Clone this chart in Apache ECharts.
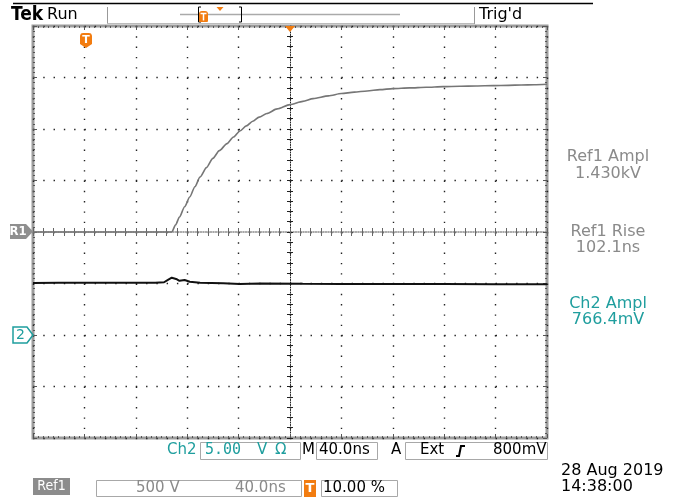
<!DOCTYPE html>
<html>
<head>
<meta charset="utf-8">
<script src="https://cdn.jsdelivr.net/npm/echarts@6/dist/echarts.min.js"></script>
<style>
html,body{margin:0;padding:0;background:#fff;}
#c{width:683px;height:501px;}
</style>
</head>
<body>
<div id="c"></div>
<script>
// ---- data ----
// Ref1 trace: time (ns, trigger = 0) and amplitude (V), 500 V/div
const ref1TimeNs = [-40, -20, 0, 20, 40, 60, 68, 71, 74, 78, 82, 86, 90, 95, 100, 105, 111, 116, 121, 126, 131, 136, 142, 150, 160, 170, 178, 190, 200, 210, 220, 230, 240, 253, 266, 279, 292, 305, 318, 330, 340, 350, 360];
const ref1Volts  = [0, 0, 0, 0, 0, 0, 0, 70, 146, 245, 340, 440, 534, 625, 715, 790, 858, 922, 981, 1030, 1075, 1115, 1150, 1195, 1237, 1268, 1295, 1322, 1344, 1358, 1369, 1382, 1392, 1399, 1405, 1411, 1415, 1418, 1421, 1424, 1427, 1430, 1434];
// Ch2 trace: time (ns) and voltage (V), 5.00 V/div, ground 2 div below centre
const ch2TimeNs = [-40, -20, 0, 20, 40, 55, 62, 65, 68, 72, 74, 78, 82, 90, 108, 121, 137, 170, 200, 240, 280, 320, 360];
const ch2Volts  = [5.06, 5.08, 5.07, 5.08, 5.07, 5.08, 5.12, 5.35, 5.56, 5.41, 5.26, 5.34, 5.17, 5.08, 5.02, 4.95, 5.0, 4.97, 4.96, 4.95, 4.94, 4.93, 4.92];
// scales
const timeRange = [-40, 360, 40];     // 40.0 ns/div, trigger at 10 %
const ref1Range = [-2000, 2000, 500]; // 500 V/div
const ch2Range  = [-10, 30, 5];       // 5.00 V/div
// text labels
const measLabels = ['Ref1 Ampl', 'Ref1 Rise', 'Ch2 Ampl'];
const measValues = ['1.430kV', '102.1ns', '766.4mV'];
const headerLabels = ['Tek', 'Run', "Trig'd"];
const bottomLabels = ['Ch2', '5.00', 'V', 'Ω', 'M', '40.0ns', 'A', 'Ext', '800mV'];
const refLabels = ['Ref1', '500 V', '40.0ns', '10.00 %'];
const dateLabels = ['28 Aug 2019', '14:38:00'];

const GRAY = '#8a8a8a', TEAL = '#1f9e9e', ORANGE = '#f27c10', BOXC = '#a8a8a8';
const FONT = 'DejaVu Sans';

function txt(x, y, s, size, fill, align, weight, family) {
  return {
    type: 'text', x: x, y: y, z: 100,
    style: {
      text: s, fill: fill || '#000',
      font: (weight || 'normal') + ' ' + size + 'px "' + (family || FONT) + '"',
      align: align || 'left', verticalAlign: 'middle',
      textAlign: align || 'left', textVerticalAlign: 'middle'
    }
  };
}
function ln(x1, y1, x2, y2, stroke, w) {
  return { type: 'line', z: 100, shape: { x1: x1, y1: y1, x2: x2, y2: y2 }, style: { stroke: stroke, lineWidth: w || 1 } };
}
function box(x, y, w, h, stroke, fill) {
  return { type: 'rect', z: 99, shape: { x: x, y: y, width: w, height: h }, style: { stroke: stroke || 'none', fill: fill || 'none', lineWidth: 1 } };
}
function poly(pts, fill, stroke, lw) {
  return { type: 'polygon', z: 100, shape: { points: pts }, style: { fill: fill || 'none', stroke: stroke || 'none', lineWidth: lw || 1 } };
}

const graphics = [
  // cut title underline at the very top
  ln(13, 3.5, 593, 3.5, '#000', 1.5),
  // header
  txt(11, 15.5, headerLabels[0], 19, '#000', 'left', 'bold', 'DejaVu Sans Condensed'),
  txt(47, 15, headerLabels[1], 16, '#000'),
  ln(107.5, 7, 107.5, 24, '#999', 1),
  ln(474.5, 7, 474.5, 24, '#999', 1),
  ln(107, 23.5, 474, 23.5, '#bbb', 1),
  ln(180, 14.5, 400, 14.5, '#aaa', 1.5),
  ln(198.5, 7, 198.5, 22, '#000', 1), ln(198.5, 7, 201, 7, '#000', 1), ln(198.5, 22, 201, 22, '#000', 1),
  ln(241.5, 7, 241.5, 22, '#000', 1), ln(239, 7, 241.5, 7, '#000', 1), ln(239, 22, 241.5, 22, '#000', 1),
  { type: 'rect', z: 100, shape: { x: 199, y: 11, width: 9, height: 11, r: [3, 3, 1, 1] }, style: { fill: ORANGE } },
  ln(200.5, 13.5, 206.5, 13.5, '#fff', 1.5), ln(203.5, 13.5, 203.5, 20.5, '#fff', 1.5),
  poly([[216.5, 7], [223.5, 7], [220, 11]], ORANGE),
  txt(479, 15, headerLabels[2], 16, '#000'),
  // in-plot markers
  poly([[285, 26], [295, 26], [290, 32]], ORANGE),
  poly([[80, 35.5], [81, 33.5], [83, 33], [89, 33], [91, 33.5], [92, 35.5], [92, 44], [86, 48], [80, 44]], ORANGE),
  txt(86, 40, 'T', 11, '#fff', 'center', 'bold'),
  poly([[10, 224], [26, 224], [33, 231.5], [26, 239], [10, 239]], '#8f8f8f'),
  txt(18, 231.8, 'R1', 13, '#fff', 'center', 'bold', 'DejaVu Sans Condensed'),
  poly([[13, 327], [27, 327], [33, 335], [27, 343], [13, 343]], 'none', TEAL, 1.5),
  txt(20.5, 335.5, '2', 14, TEAL, 'center'),
  // measurement panel
  txt(608, 157, measLabels[0], 16, GRAY, 'center'),
  txt(608, 174, measValues[0], 16, GRAY, 'center'),
  txt(608, 232, measLabels[1], 16, GRAY, 'center'),
  txt(608, 248, measValues[1], 16, GRAY, 'center'),
  txt(608, 304, measLabels[2], 16, TEAL, 'center'),
  txt(608, 320, measValues[2], 16, TEAL, 'center'),
  // bottom status row
  txt(167, 450.5, bottomLabels[0], 15, TEAL),
  box(200.5, 442.5, 100, 17, BOXC),
  txt(205, 450.5, bottomLabels[1], 15, TEAL, 'left', 'normal', 'DejaVu Sans Mono'),
  txt(257, 450.5, bottomLabels[2], 15, TEAL),
  txt(275, 450.5, bottomLabels[3], 15, TEAL),
  txt(302, 450.5, bottomLabels[4], 15, '#000'),
  box(316.5, 442.5, 61, 17, BOXC),
  txt(319, 450.5, bottomLabels[5], 15, '#000'),
  txt(391, 450.5, bottomLabels[6], 15, '#000'),
  box(405.5, 442.5, 142, 17, BOXC),
  txt(420, 450.5, bottomLabels[7], 15, '#000'),
  { type: 'polyline', z: 100, shape: { points: [[456, 456], [459, 456], [461, 446], [465, 446]] }, style: { stroke: '#000', lineWidth: 2, fill: 'none' } },
  txt(493, 450.5, bottomLabels[8], 15, '#000'),
  // reference row
  box(33, 478, 37, 17, null, '#8c8c8c'),
  txt(51.5, 486.8, refLabels[0], 14, '#fff', 'center', 'normal', 'DejaVu Sans Condensed'),
  box(96.5, 480.5, 205, 16, BOXC),
  txt(136, 488.5, refLabels[1], 15, GRAY),
  txt(235, 488.5, refLabels[2], 15, GRAY),
  box(304, 480, 12, 17, null, ORANGE),
  txt(310, 488.8, 'T', 13, '#fff', 'center', 'bold'),
  box(321.5, 480.5, 76, 16, BOXC),
  txt(323, 488.5, refLabels[3], 15, '#000'),
  txt(561, 471, dateLabels[0], 16, '#000'),
  txt(561, 487, dateLabels[1], 16, '#000')
];

const tickCol = '#555';
function borderX(pos, split) {
  return {
    type: 'value', min: -5, max: 5, interval: 1, position: pos,
    axisLine: { show: false, onZero: false },
    axisTick: { show: true, inside: true, length: 4, lineStyle: { color: tickCol, width: 1 } },
    minorTick: { show: true, splitNumber: 10, length: 2, lineStyle: { color: tickCol, width: 1 } },
    axisLabel: { show: false },
    splitLine: { show: split, lineStyle: { color: '#222', width: 1.4, type: [1.4, 8.9] } },
    minorSplitLine: { show: false }
  };
}
function borderY(pos, split) {
  return {
    type: 'value', min: -4, max: 4, interval: 1, position: pos,
    axisLine: { show: false, onZero: false },
    axisTick: { show: true, inside: true, length: 4, lineStyle: { color: tickCol, width: 1 } },
    minorTick: { show: true, splitNumber: 10, length: 2, lineStyle: { color: tickCol, width: 1 } },
    axisLabel: { show: false },
    splitLine: { show: split, lineStyle: { color: '#222', width: 1.4, type: [1.4, 8.88] } },
    minorSplitLine: { show: false }
  };
}
function centerX(inside, showLine) {
  return {
    type: 'value', min: -5, max: 5, interval: 1, position: 'bottom',
    axisLine: { show: showLine, onZero: true, onZeroAxisIndex: 2, lineStyle: { color: '#8a8a8a', width: 1.5, type: [1, 1.5] } },
    axisTick: { show: true, inside: inside, length: 4, lineStyle: { color: '#666', width: 1 } },
    minorTick: { show: true, splitNumber: 5, length: 4, lineStyle: { color: '#666', width: 1 } },
    axisLabel: { show: false }, splitLine: { show: false }
  };
}
function centerY(inside, showLine) {
  return {
    type: 'value', min: -4, max: 4, interval: 1, position: 'left',
    axisLine: { show: showLine, onZero: true, onZeroAxisIndex: 1, lineStyle: { color: '#222', width: 1, type: [1, 1.5] } },
    axisTick: { show: true, inside: inside, length: 3, lineStyle: { color: '#222', width: 1 } },
    minorTick: { show: true, splitNumber: 5, length: 3, lineStyle: { color: '#222', width: 1 } },
    axisLabel: { show: false }, splitLine: { show: false }
  };
}

const chart = echarts.init(document.getElementById('c'), null, { renderer: 'canvas' });
chart.setOption({
  animation: false,
  backgroundColor: '#fff',
  grid: { left: 33, top: 26, width: 514, height: 412, show: true, borderColor: '#9c9c9c', borderWidth: 3, outerBoundsMode: 'none', containLabel: false },
  xAxis: [
    { type: 'value', min: timeRange[0], max: timeRange[1], interval: timeRange[2], show: false, axisLine: { onZero: false }, splitLine: { show: false } },
    borderX('bottom', true),
    borderX('top', false),
    centerX(true, true),
    centerX(false, false)
  ],
  yAxis: [
    { type: 'value', min: ref1Range[0], max: ref1Range[1], interval: ref1Range[2], show: false, axisLine: { onZero: false }, splitLine: { show: false } },
    { type: 'value', min: ch2Range[0], max: ch2Range[1], interval: ch2Range[2], show: false, axisLine: { onZero: false }, splitLine: { show: false } },
    borderY('left', true),
    borderY('right', false),
    centerY(true, true),
    centerY(false, false)
  ],
  series: [
    {
      name: 'Ref1', type: 'line', xAxisIndex: 0, yAxisIndex: 0, z: 5,
      data: ref1TimeNs.map((t, i) => [t, ref1Volts[i]]),
      showSymbol: false, symbol: 'none', smooth: 0.25, smoothMonotone: 'x',
      lineStyle: { color: '#767676', width: 1.6 }
    },
    {
      name: 'Ch2', type: 'line', xAxisIndex: 0, yAxisIndex: 1, z: 6,
      data: ch2TimeNs.map((t, i) => [t, ch2Volts[i]]),
      showSymbol: false, symbol: 'none',
      lineStyle: { color: '#111', width: 2 }
    }
  ],
  graphic: graphics
});
</script>
</body>
</html>
